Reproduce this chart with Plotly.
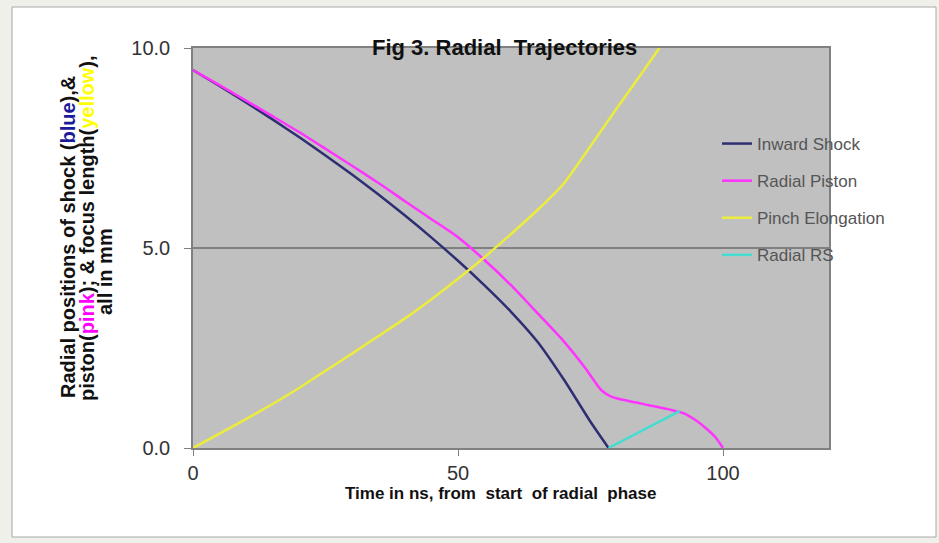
import plotly.graph_objects as go

# ---- data ----
shock_t = [0, 5, 10, 15, 20, 25, 30, 35, 40, 45, 50, 55, 60, 65, 70, 75, 78.4]
shock_r = [9.45, 9.05, 8.64, 8.215, 7.775, 7.315, 6.835, 6.335, 5.81, 5.26, 4.68, 4.065,
           3.405, 2.655, 1.705, 0.655, 0.0]

piston_t = [0, 5, 10, 15, 20, 25, 30, 35, 40, 45, 50, 55, 60, 65, 70, 74, 77, 79, 82, 86,
            90, 92.5, 95, 97, 98.5, 99.5, 100]
piston_r = [9.45, 9.07, 8.685, 8.295, 7.9, 7.48, 7.055, 6.625, 6.17, 5.72, 5.27, 4.7, 4.07,
            3.37, 2.66, 2.0, 1.45, 1.28, 1.18, 1.07, 0.96, 0.87, 0.68, 0.47, 0.28, 0.1, 0.0]

pinch_t = [0, 5, 10, 15, 20, 25, 30, 35, 40, 45, 50, 55, 60, 65, 70, 75, 80, 85, 88]
pinch_r = [0.0, 0.36, 0.72, 1.1, 1.5, 1.93, 2.36, 2.8, 3.24, 3.72, 4.23, 4.77, 5.35, 5.95,
           6.62, 7.55, 8.5, 9.43, 10.0]

rs_t = [78.4, 91.8]
rs_r = [0.0, 0.92]

x_ticks = [0, 50, 100]
y_ticks = [0.0, 5.0, 10.0]

# ---- layout geometry in pixels ----
W, H = 939, 543
L, R, T, B = 193, 829, 48, 448
pw, ph = R - L, B - T

def px(x):
    return (x - L) / pw

def py(y):
    return (B - y) / ph

FONT = "Liberation Sans, Arial, sans-serif"

fig = go.Figure()
series = [
    ("Inward Shock", shock_t, shock_r, "#2e2e72", 0.6),
    ("Radial Piston", piston_t, piston_r, "#ff33ff", 0.6),
    ("Pinch Elongation", pinch_t, pinch_r, "#ecec3c", 0.6),
    ("Radial RS", rs_t, rs_r, "#44ddd2", 0.0),
]
for name, t, r, c, sm in series:
    fig.add_trace(go.Scatter(x=t, y=r, mode="lines", name=name, legendgroup=name,
                             line=dict(color=c, width=2.5, shape="spline", smoothing=sm)))

shapes = [
    dict(type="rect", xref="paper", yref="paper", x0=px(12), x1=px(936), y0=py(537), y1=py(7),
         fillcolor="white", line=dict(color="#a8a8a8", width=1), layer="below"),
    dict(type="rect", xref="paper", yref="paper", x0=0, x1=1, y0=0, y1=1,
         fillcolor="#c0c0c0", line=dict(width=0), layer="below"),
]

ytitle_lines = [
    (68, 237, "<b>Radial positions of shock (<span style='color:#1a1a9a'>blue</span>),&amp;</b>"),
    (87, 228, "<b>piston(<span style='color:#ff00ff'>pink</span>); &amp; focus length(<span style='color:#ffff00'>yellow</span>),</b>"),
    (105, 272, "<b>all in mm</b>"),
]
annotations = [
    dict(text="<b>Fig 3. Radial  Trajectories</b>", xref="paper", yref="paper",
         x=px(504), y=py(47), xanchor="center", yanchor="middle", showarrow=False,
         font=dict(family=FONT, size=22, color="#111111")),
    dict(text="<b>Time in ns, from  start  of radial  phase</b>", xref="paper", yref="paper",
         x=px(500), y=py(493), xanchor="center", yanchor="middle", showarrow=False,
         font=dict(family=FONT, size=17, color="#111111")),
]
for xx, yy, txt in ytitle_lines:
    annotations.append(dict(text=txt, xref="paper", yref="paper", x=px(xx), y=py(yy),
                            xanchor="center", yanchor="middle", textangle=-90, showarrow=False,
                            font=dict(family=FONT, size=20, color="#111111")))

fig.update_layout(
    width=W, height=H,
    margin=dict(l=L, r=W - R, t=T, b=H - B),
    paper_bgcolor="#f0f0eb",
    plot_bgcolor="rgba(0,0,0,0)",
    shapes=shapes,
    annotations=annotations,
    showlegend=True,
    legend=dict(x=px(717), y=py(126), xanchor="left", yanchor="top",
                bgcolor="rgba(0,0,0,0)", borderwidth=0, tracegroupgap=12,
                font=dict(family=FONT, size=17, color="#555555")),
    xaxis=dict(range=[0, 120], tickvals=x_ticks, ticktext=[str(v) for v in x_ticks],
               showgrid=False, zeroline=False, showline=True, mirror=True,
               linecolor="#808080", linewidth=1.5, ticks="outside", ticklen=6,
               tickcolor="#808080", tickfont=dict(family=FONT, size=20, color="#333333")),
    yaxis=dict(range=[0, 10], tickvals=y_ticks, ticktext=[f"{v:.1f}" for v in y_ticks],
               showgrid=True, gridcolor="#808080", gridwidth=1.5, zeroline=False,
               showline=True, mirror=True, linecolor="#808080", linewidth=1.5,
               ticks="outside", ticklen=7, tickcolor="#808080", ticklabelstandoff=10,
               tickfont=dict(family=FONT, size=20, color="#333333")),
)

fig.write_html("out.html", config={"displayModeBar": False},
               post_script="document.body.style.margin='0px';document.body.style.overflow='hidden';")
